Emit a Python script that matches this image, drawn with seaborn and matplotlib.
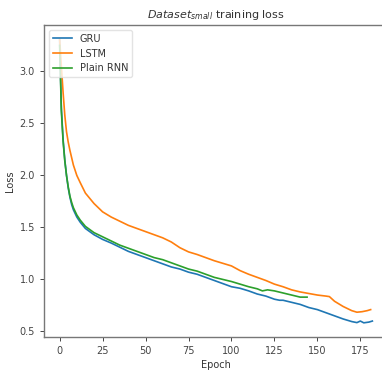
import numpy as np
import pandas as pd
import matplotlib
matplotlib.use("Agg")
import matplotlib.pyplot as plt
import seaborn as sns

# ---- data ----
gru_epochs = [0, 1, 2, 3, 4, 5, 6, 7, 8, 10, 12, 15, 20, 25, 30, 35, 40, 45, 50, 55, 60, 65, 70,
              75, 80, 85, 90, 95, 100, 105, 110, 115, 120, 125, 128, 130, 135, 140, 145, 150,
              155, 160, 165, 170, 173, 175, 177, 180, 182]
gru_loss = [3.30, 2.65, 2.35, 2.15, 2.00, 1.88, 1.79, 1.72, 1.67, 1.60, 1.55, 1.49, 1.43, 1.385,
            1.35, 1.31, 1.27, 1.24, 1.21, 1.18, 1.15, 1.12, 1.10, 1.07, 1.05, 1.02, 0.99, 0.96,
            0.93, 0.915, 0.89, 0.86, 0.84, 0.81, 0.80, 0.80, 0.78, 0.76, 0.73, 0.71, 0.68, 0.65,
            0.62, 0.595, 0.585, 0.60, 0.583, 0.59, 0.60]

lstm_epochs = [0, 1, 2, 3, 4, 5, 6, 8, 10, 12, 15, 20, 25, 30, 35, 40, 45, 50, 55, 60, 65, 70,
               75, 80, 85, 90, 95, 100, 105, 110, 115, 120, 125, 130, 135, 140, 145, 150, 155,
               157, 160, 165, 170, 173, 176, 179, 181]
lstm_loss = [3.31, 3.05, 2.80, 2.58, 2.42, 2.32, 2.24, 2.10, 2.00, 1.93, 1.83, 1.73, 1.65, 1.60,
             1.56, 1.52, 1.49, 1.46, 1.43, 1.40, 1.36, 1.305, 1.265, 1.24, 1.21, 1.18, 1.155,
             1.13, 1.085, 1.05, 1.02, 0.99, 0.955, 0.93, 0.90, 0.88, 0.865, 0.85, 0.84, 0.835,
             0.79, 0.74, 0.70, 0.685, 0.69, 0.70, 0.71]

rnn_epochs = [0, 1, 2, 3, 4, 5, 6, 7, 8, 10, 12, 15, 20, 25, 30, 35, 40, 45, 50, 55, 60, 65, 70,
              75, 80, 85, 90, 95, 100, 105, 110, 115, 118, 121, 125, 130, 135, 140, 144]
rnn_loss = [3.25, 2.62, 2.33, 2.14, 2.00, 1.89, 1.80, 1.74, 1.69, 1.62, 1.57, 1.51, 1.45, 1.41,
            1.37, 1.33, 1.30, 1.27, 1.24, 1.21, 1.19, 1.16, 1.13, 1.10, 1.08, 1.05, 1.02, 1.00,
            0.98, 0.955, 0.93, 0.91, 0.89, 0.90, 0.89, 0.87, 0.85, 0.83, 0.83]

series_names = ["GRU", "LSTM", "Plain RNN"]

df = pd.concat([
    pd.DataFrame({"Epoch": gru_epochs, "Loss": gru_loss, "Model": series_names[0]}),
    pd.DataFrame({"Epoch": lstm_epochs, "Loss": lstm_loss, "Model": series_names[1]}),
    pd.DataFrame({"Epoch": rnn_epochs, "Loss": rnn_loss, "Model": series_names[2]}),
], ignore_index=True)

fig = plt.figure(figsize=(3.82, 3.78), dpi=100)
ax = fig.add_axes([44 / 382, (378 - 337) / 378, 344 / 382, (337 - 25) / 378])

palette = ["#1f77b4", "#ff7f0e", "#2ca02c"]
sns.lineplot(data=df, x="Epoch", y="Loss", hue="Model", hue_order=series_names,
             palette=palette, linewidth=1.2, ax=ax, estimator=None, sort=False)

ax.set_title(r"$Dataset_{small}$ training loss", fontsize=8, pad=5, color="#333333")
ax.set_xlabel("Epoch", fontsize=7, color="#333333", labelpad=3)
ax.set_ylabel("Loss", fontsize=7, color="#333333", labelpad=3)
ax.set_xticks([0, 25, 50, 75, 100, 125, 150, 175])
ax.set_yticks([0.5, 1.0, 1.5, 2.0, 2.5, 3.0])
ax.tick_params(labelsize=7, colors="#444444", length=3, width=0.7)
for s in ax.spines.values():
    s.set_color("#777777")
    s.set_linewidth(1.0)

leg = ax.legend(loc="upper left", fontsize=7, frameon=True, framealpha=0.8,
                borderpad=0.4, labelspacing=0.5, handlelength=2.0)
leg.get_frame().set_edgecolor("#dddddd")
for t in leg.get_texts():
    t.set_color("#333333")

fig.savefig("out.png", dpi=100)
